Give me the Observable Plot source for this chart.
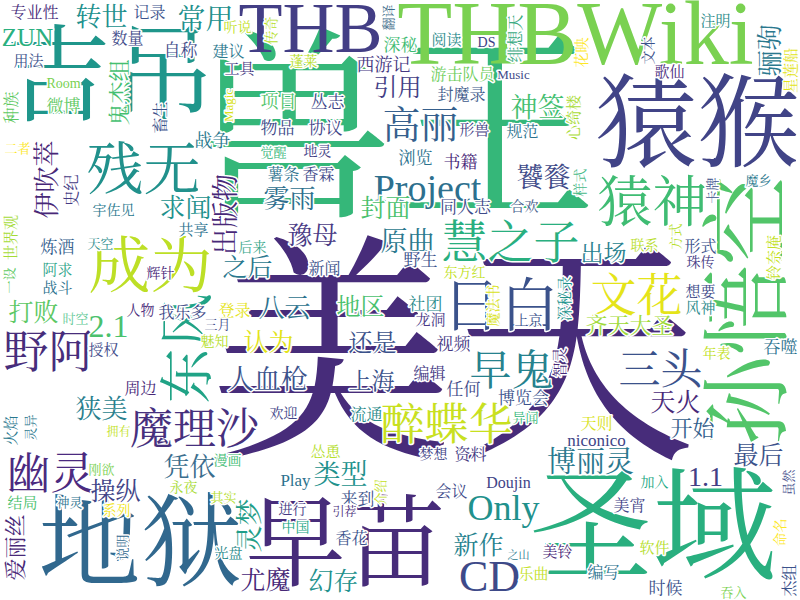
<!DOCTYPE html>
<html><head><meta charset="utf-8">
<script src="https://cdn.jsdelivr.net/npm/d3@7"></script>
<script src="https://cdn.jsdelivr.net/npm/@observablehq/plot@0.6"></script>
<style>html,body{margin:0;padding:0;background:#fff}</style>
</head><body><div id="chart"></div>
<script>
const words = [
"美天","兽王","猿猴","吉吊","地狱","早苗","圣域","孙悟空","THBWiki","THB",
"猿神","残无","成为","东风","野阿","慧之子","日白","早鬼","文花","三头",
"魔理沙","幽灵","醉蝶华","Project","高丽","Only","CD","博丽灵","神签","饕餮",
"引用","原曲","封面","雾雨","出版物","豫母","之后","八云","地区","认为",
"还是","人血枪","上海","出场","齐天大圣","天火","开始","最后","1.1","狭美",
"凭依","操纵","类型","灵梦","尤魔","幻存","新作","转世","常用","求闻",
"打败","伊吹萃","2.1","ZUN","鬼杰组","爱丽丝","骊驹","专业性","记录","数量",
"自称","用法","Room","微博","畜生","种族","二者","史纪","听说","传奇",
"翻译","建议","工具","蓬莱","深秘","西游记","Magic","项目","丛志","物品",
"协议","战争","觉醒","地灵","薯条","香霖","阅读","DS","绯想天","花映",
"游击队员","Music","封魔录","形兽","规范","心绮楼","浏览","书籍","样式","注明",
"文本","歌仙","星莲船","魔乡","卡牌","宇佐见","共享","世界观","炼酒","天空",
"一设","阿求","辉针","战斗","时空","人物","我乐多","授权","周边","后来",
"新闻","登录","三月","魅知","同人志","合欢","野生","东方红","上京","魔法书",
"深秘录","社团","龙洞","视频","智灵","编辑","任何","博览会","方式","联系",
"形式","珠传","铃奈庵","想要","风神","吞噬","年表","火焰","灵异","拥有",
"刚欲","永夜","结局","神灵","系列","说明","欢迎","流通","怂恿","漫画",
"Play","介绍","来到","其实","进行","引荐","中国","香花","光盘","异闻",
"天则","niconico","梦想","资料","Doujin","会议","之山","美铃","乐曲","编写",
"加入","美宵","虽然","命名","软件","杰组","时候","吞入"
];
const xs = [
452,392,697,110,140,345,652,750,575,310,
652,143,150,188,48,510,500,511,636,660,
194,50,446,427,420,503,489,590,537,543,
397,407,385,289,226,312,247,284,360,268,
372,267,371,603,629,675,692,758,705,101,
189,115,340,250,265,333,478,101,205,185,
33,47,108,27,119,15,770,34,149,127,
180,28,63,63,160,11,17,71,237,271,
388,228,239,303,400,383,228,278,327,277,
325,212,273,317,283,318,446,486,515,582,
462,513,461,474,522,574,415,460,580,715,
648,669,791,758,712,113,193,11,57,100,
9,57,160,57,75,140,182,103,140,252,
324,234,217,214,465,524,420,464,528,493,
565,425,430,453,560,429,463,523,675,644,
700,700,774,700,700,780,716,11,30,118,
101,183,22,69,116,122,283,366,325,227,
295,380,357,223,292,344,295,351,228,525,
596,596,433,470,508,451,518,557,533,603,
654,629,788,780,654,789,665,733
];
const ys = [
362,135,126,78,545,545,530,310,35,28,
203,170,268,348,353,243,307,371,296,370,
430,474,425,188,125,508,576,462,108,178,
88,242,208,199,214,235,267,308,307,342,
343,380,381,253,325,402,428,455,477,409,
467,491,475,525,580,581,545,17,20,208,
312,179,326,37,92,547,50,12,12,38,
50,61,83,106,117,107,148,190,27,30,
17,51,69,61,45,65,105,102,102,128,
128,141,152,151,174,174,40,42,38,52,
74,74,94,130,131,117,158,162,182,21,
50,72,70,180,190,210,230,237,247,243,
280,270,273,288,318,310,312,350,388,247,
268,310,324,341,207,206,260,272,320,305,
298,304,320,344,362,373,389,398,236,245,
246,262,257,292,308,347,353,430,427,432,
469,487,503,502,510,547,413,414,452,460,
480,492,499,497,509,512,527,538,553,417,
423,440,454,454,482,491,555,552,574,572,
482,505,482,532,548,580,588,592
];
const sizes = [
244,205,102,105,102,100,124,90,90,72,
55,57,62,55,45,46,58,42,46,42,
43,44,44,38,38,36,44,29,27,27,
24,27,25,26,27,25,25,26,24,25,
24,27,23,23,22,25,22,25,28,26,
26,25,27,27,25,25,25,26,28,26,
25,26,32,25,22,22,26,16,16,16,
17,15,14,17,16,16,13,16,14,14,
13,16,15,14,17,18,13,18,17,17,
17,18,13,14,16,16,15,14,16,15,
16,13,16,15,16,15,17,17,14,15,
14,15,15,13,13,14,15,15,17,13,
13,15,14,15,13,14,16,15,16,14,
16,16,13,14,17,14,17,14,14,14,
15,17,15,17,15,16,17,17,13,14,
16,14,15,15,15,17,14,15,13,12,
13,14,15,13,14,13,14,16,15,14,
17,13,17,13,14,12,14,16,14,13,
16,17,14,16,16,16,11,15,15,16,
14,16,13,14,15,16,17,13
];
const colors = [
"#472c7a","#35b779","#414487","#1f968b","#31688e","#472c7a","#29af7f","#52c569","#7ad151","#433e85",
"#3fbc73","#21918c","#bddf26","#20a386","#472d7b","#29af7f","#3b528b","#26828e","#e5e419","#3b528b",
"#46307e","#4b2a80","#c8e020","#2d708e","#355f8d","#21918c","#3e4a89","#2a788e","#44bf70","#3e4a89",
"#433e85","#2a788e","#4ac16d","#2e6f8e","#482878","#4a3b85","#2a788e","#2c728e","#4ac16d","#e2e418",
"#3b528b","#3b528b","#3b528b","#277f8e","#9fda3a","#482878","#355f8d","#3b528b","#433e85","#2a7f8e",
"#3b6e8e","#414487","#21918c","#1f9e89","#482878","#21918c","#26828e","#21908d","#21908d","#21918c",
"#5cc863","#482878","#4ac16d","#2ab07f","#44bf70","#482878","#2a788e","#472d7b","#3b528b","#3e4a89",
"#3e4a89","#3b528b","#7ad151","#5ec962","#3b528b","#5ec962","#fde725","#443983","#c2df23","#b5de2b",
"#3e6c8a","#2a788e","#453781","#b8de29","#3fbc73","#453781","#d8e219","#51c56a","#404688","#3e4a89",
"#414487","#2a788e","#35b779","#433e85","#2c728e","#3e4989","#2a8a8a","#3b3f86","#3aaa82","#fde725",
"#6ccd5a","#3e4a89","#3e5a8a","#433e85","#2c728e","#a8db34","#2c728e","#482878","#48b987","#2a8a8a",
"#3b528b","#4b2c7e","#e2e418","#2a788e","#3b528b","#2a788e","#2c728e","#a5db36","#35608d","#2a8a8a",
"#5ec962","#2fa68a","#482878","#2c728e","#60c894","#482878","#3d4b88","#3e4a89","#482878","#3aa88a",
"#3b528b","#e5e419","#3e4a89","#b5de2b","#3e4a89","#46608c","#3b528b","#c2df23","#3b528b","#d8e219",
"#21918c","#2a8a8a","#4a3a86","#443983","#482878","#443983","#3e4a89","#3b528b","#b5de2b","#b8de29",
"#3b528b","#443983","#c2df23","#3e4a89","#2a8a8a","#2c728e","#c2df23","#2a788e","#2a788e","#c2df23",
"#7ad151","#a8db34","#4ac16d","#2c728e","#f0e51c","#31688e","#414487","#2a8a8a","#b5de2b","#3fbc73",
"#2c728e","#c2df23","#3b528b","#b5de2b","#443983","#472d7b","#22a884","#3b528b","#2a8a8a","#35b779",
"#d8e219","#414487","#414487","#443983","#414487","#3e4a89","#2a788e","#482878","#c2df23","#2c728e",
"#22a884","#414487","#3e4a89","#fde725","#b5de2b","#3b528b","#3b528b","#7ad151"
];
const verticalWords = ["孙悟空","东风","出版物","灵梦","伊吹萃","鬼杰组","爱丽丝","骊驹","畜生","种族","史纪","传奇","翻译","Magic","绯想天","花映","心绮楼","样式","文本","星莲船","卡牌","世界观","一设","魔法书","深秘录","智灵","方式","铃奈庵","火焰","灵异","说明","介绍","虽然","命名","杰组"];

const data = words.map((w, i) => ({
  word: w, x: xs[i], y: ys[i], size: sizes[i], color: colors[i],
  turn: verticalWords.includes(w) ? -90 : 0
})).sort((a, b) => b.size - a.size);

const big = data.filter(d => d.size >= 70);
const small = data.filter(d => d.size < 70);
const font = "'Liberation Serif', 'Noto Serif CJK SC', 'Noto Sans CJK SC', serif";

const chart = Plot.plot({
  width: 800, height: 600, margin: 0,
  x: {domain: [0, 800], axis: null},
  y: {domain: [0, 600], range: [0, 600], axis: null},
  color: {type: "identity"},
  style: {background: "#fff"},
  marks: [
    Plot.text(big, {
      x: "x", y: "y", text: "word",
      fontSize: d => d.size, rotate: d => d.turn, fill: d => d.color,
      fontFamily: font, textAnchor: "middle", lineAnchor: "middle"
    }),
    Plot.text(small, {
      x: "x", y: "y", text: "word",
      fontSize: d => d.size, rotate: d => d.turn, fill: d => d.color,
      stroke: "white", strokeWidth: 3, paintOrder: "stroke",
      fontFamily: font, textAnchor: "middle", lineAnchor: "middle"
    })
  ]
});
document.getElementById("chart").appendChild(chart);
</script>
</body></html>
